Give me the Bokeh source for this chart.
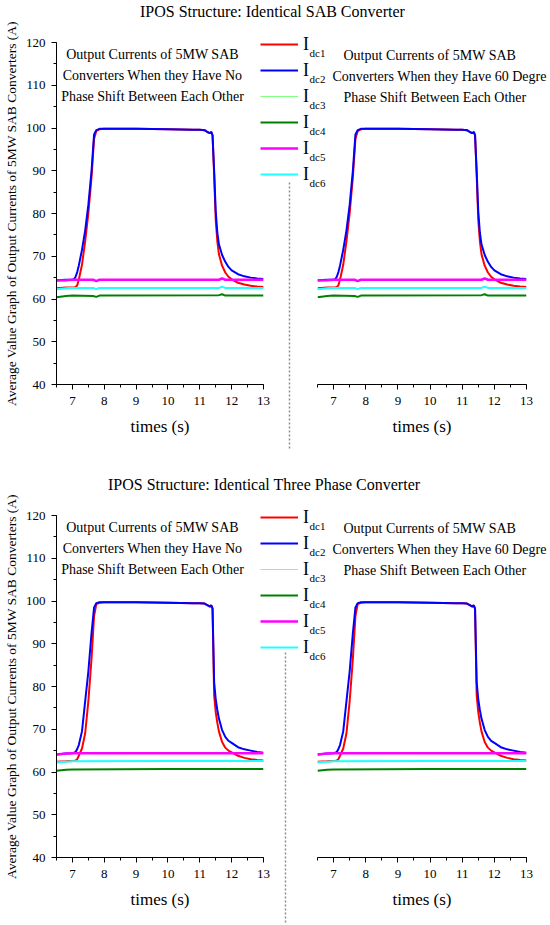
from bokeh.plotting import figure
from bokeh.models import (Div, Label, Legend, LegendItem, SingleIntervalTicker, Range1d)
from bokeh.layouts import column, row
from bokeh.embed import file_html
from bokeh.resources import INLINE

FONT = "Liberation Serif"

# ---------------- data ----------------
series_labels = ["I", "I", "I", "I", "I", "I"]
series_subs = ["dc1", "dc2", "dc3", "dc4", "dc5", "dc6"]
series_colors = ["#ff0000", "#0000ff", "#80ff80", "#008000", "#ff00ff", "#20ffff"]
series_widths = [2, 2, 1.2, 2, 2.5, 2]

y_label = "Average Value Graph of Output Currents of 5MW SAB Converters (A)"
x_label = "times (s)"
titles = ["IPOS Structure: Identical SAB Converter",
          "IPOS Structure: Identical Three Phase Converter"]
note_left = ["Output Currents of 5MW SAB",
             "Converters When they Have No",
             "Phase Shift Between Each Other"]
note_right = ["Output Currents of 5MW SAB",
              "Converters When they Have 60 Degre",
              "Phase Shift Between Each Other"]

# --- top panel (SAB converter) ---
t_top = [6.5, 6.8, 7.0, 7.05, 7.1, 7.15, 7.2, 7.3, 7.4, 7.5, 7.6, 7.68, 7.75, 7.85,
         8.0, 9.0, 10.0, 10.8, 11.0, 11.15, 11.25, 11.32, 11.36, 11.4, 11.45, 11.5,
         11.55, 11.6, 11.7, 11.8, 11.9, 12.0, 12.2, 12.4, 12.6, 12.8, 13.0]
top_idc1 = [62.5, 62.7, 62.7, 62.7, 62.8, 63.2, 64.5, 68.0, 73.5, 80.0, 88.5, 97.5, 99.3, 99.7,
            99.8, 99.8, 99.7, 99.6, 99.6, 99.5, 99.0, 98.8, 99.1, 98.3, 89.0, 78.5,
            73.5, 70.5, 67.8, 66.2, 65.2, 64.6, 63.8, 63.4, 63.1, 62.9, 62.8]
top_idc2 = [64.4, 64.5, 64.5, 64.6, 65.2, 66.3, 67.8, 71.5, 76.0, 82.0, 90.0, 98.5, 99.5, 99.8,
            99.8, 99.8, 99.7, 99.6, 99.6, 99.5, 99.0, 98.8, 99.1, 98.3, 90.0, 80.5,
            75.5, 72.8, 70.3, 68.7, 67.5, 66.7, 65.8, 65.3, 65.0, 64.8, 64.7]
t_flat_top = [6.5, 6.8, 7.0, 7.65, 7.75, 7.85, 11.6, 11.7, 11.8, 13.0]
top_idc3 = [62.4, 62.5, 62.6, 62.6, 62.4, 62.6, 62.6, 62.8, 62.6, 62.6]
top_idc4 = [60.4, 60.7, 60.8, 60.7, 60.5, 60.8, 60.9, 61.1, 60.8, 60.8]
top_idc5 = [64.3, 64.4, 64.5, 64.5, 64.2, 64.5, 64.5, 64.8, 64.5, 64.5]
top_idc6 = [62.3, 62.5, 62.6, 62.6, 62.3, 62.6, 62.6, 62.9, 62.6, 62.6]

# --- bottom panel (three phase converter) ---
t_bot = t_top
bot_idc1 = [62.4, 62.5, 62.6, 62.6, 62.7, 63.0, 63.8, 65.5, 69.0, 76.5, 86.5, 96.5, 99.3, 99.6,
            99.7, 99.7, 99.6, 99.5, 99.5, 99.4, 99.0, 98.7, 99.0, 98.2, 78.0, 74.0,
            71.5, 69.5, 67.0, 65.7, 65.0, 64.6, 63.8, 63.3, 63.0, 62.8, 62.7]
bot_idc2 = [64.1, 64.3, 64.4, 64.5, 64.7, 65.4, 66.3, 69.5, 76.5, 83.5, 92.5, 98.5, 99.5, 99.7,
            99.7, 99.7, 99.6, 99.5, 99.5, 99.4, 99.0, 98.7, 99.0, 98.2, 81.0, 77.0,
            74.5, 72.5, 69.8, 68.2, 67.3, 66.8, 65.8, 65.3, 65.0, 64.7, 64.5]
t_flat_bot = [6.5, 6.8, 7.0, 10.0, 13.0]
bot_idc3 = [62.3, 62.4, 62.5, 62.5, 62.5]
bot_idc4 = [60.3, 60.5, 60.6, 60.7, 60.7]
bot_idc5 = [64.1, 64.3, 64.4, 64.4, 64.4]
bot_idc6 = [62.2, 62.4, 62.5, 62.6, 62.6]

# ---------------- layout (pixels) ----------------
LEFT_W, RIGHT_W = 280, 286
RIGHT_SHIFT = -16          # right canvas starts at 264
OVER_X0, OVER_W = 258, 292
ROW_H, GLYPH_H = 26, 16

panels = [
    dict(title=titles[0], title_pad=140, top=22, height=451, mbb=89,
         xs=[t_top, t_top, t_flat_top, t_flat_top, t_flat_top, t_flat_top],
         ys=[top_idc1, top_idc2, top_idc3, top_idc4, top_idc5, top_idc6],
         legend_top=31, sep=(289, 182, 450), note_y=[55, 76, 97]),
    dict(title=titles[1], title_pad=108, top=495, height=428, mbb=66,
         xs=[t_bot, t_bot, t_flat_bot, t_flat_bot, t_flat_bot, t_flat_bot],
         ys=[bot_idc1, bot_idc2, bot_idc3, bot_idc4, bot_idc5, bot_idc6],
         legend_top=504, sep=(285, 652, 923), note_y=[528, 549, 570]),
]


def style_axis(ax, label_size):
    ax.axis_line_color = "black"
    ax.axis_line_width = 1
    ax.major_tick_line_color = "black"
    ax.minor_tick_line_color = "black"
    ax.major_tick_in = 0
    ax.major_tick_out = 5
    ax.minor_tick_in = 0
    ax.minor_tick_out = 3
    ax.major_label_text_font = FONT
    ax.major_label_text_font_size = "13px"
    ax.major_label_text_color = "black"
    ax.axis_label_text_font = FONT
    ax.axis_label_text_font_style = "normal"
    ax.axis_label_text_font_size = label_size
    ax.axis_label_text_color = "black"


def make_fig(width, height, mbl, mbr, mbb, with_y):
    p = figure(width=width, height=height,
               x_range=Range1d(6.5, 13), y_range=Range1d(40, 120),
               output_backend="svg", toolbar_location=None,
               y_axis_location="left" if with_y else None,
               min_border_left=mbl, min_border_right=mbr,
               min_border_top=20, min_border_bottom=mbb)
    p.outline_line_color = None
    p.grid.visible = False
    p.xaxis.ticker = SingleIntervalTicker(interval=1, num_minor_ticks=2)
    p.xaxis.axis_label = x_label
    p.xaxis.major_label_standoff = 7
    p.xaxis.axis_label_standoff = 9
    style_axis(p.xaxis[0], "17px")
    if with_y:
        p.yaxis.ticker = SingleIntervalTicker(interval=10, num_minor_ticks=2)
        p.yaxis.axis_label = y_label
        p.yaxis.major_label_standoff = 6
        p.yaxis.axis_label_standoff = 4
        style_axis(p.yaxis[0], "13.5px")
    return p


items = []
for pan in panels:
    h, top = pan["height"], pan["top"]
    left = make_fig(LEFT_W, h, 54, 17, pan["mbb"], True)
    right = make_fig(RIGHT_W, h, 53, 24, pan["mbb"], False)
    right.border_fill_color = None
    right.margin = (0, 0, 0, RIGHT_SHIFT)

    for xs, ys, c, w in zip(pan["xs"], pan["ys"], series_colors, series_widths):
        left.line(xs, ys, line_color=c, line_width=w)
        right.line(xs, ys, line_color=c, line_width=w)

    # notes inside the left plot (screen units from frame bottom-left)
    for txt, y in zip(note_left, pan["note_y"]):
        left.add_layout(Label(x=96, y=(top + 20 + 342) - (y - 1), x_units="screen",
                              y_units="screen", text=txt, text_align="center",
                              text_baseline="middle", text_font=FONT,
                              text_font_size="14px", text_color="black"))

    # transparent overlay in page-pixel space for legend, separator and right notes
    ov = figure(width=OVER_W, height=h, x_range=Range1d(OVER_X0, OVER_X0 + OVER_W),
                y_range=Range1d(top + h, top), output_backend="svg",
                toolbar_location=None, x_axis_location=None, y_axis_location=None,
                min_border=0, min_border_left=0, min_border_right=0,
                min_border_top=0, min_border_bottom=0)
    ov.margin = (-h, 0, 0, OVER_X0)
    ov.outline_line_color = None
    ov.grid.visible = False
    ov.background_fill_color = None
    ov.border_fill_color = None

    sx, sy0, sy1 = pan["sep"]
    ov.line([sx, sx], [sy0, sy1], line_color="#8c8c8c", line_width=1.5, line_dash="2 2")

    # legend proxies: the series themselves, which fall outside this overlay's ranges
    proxies = [ov.line(xs, ys, line_color=c, line_width=w)
               for xs, ys, c, w in zip(pan["xs"], pan["ys"], series_colors, series_widths)]
    legend_h = 6 * ROW_H
    legend = Legend(items=[LegendItem(label=lab, renderers=[r])
                           for lab, r in zip(series_labels, proxies)],
                    location=(260 - OVER_X0, (top + h) - (pan["legend_top"] + legend_h)),
                    orientation="vertical",
                    glyph_width=38, glyph_height=GLYPH_H, label_height=ROW_H,
                    label_width=8, spacing=0, padding=0, margin=0,
                    label_standoff=5, border_line_color=None,
                    background_fill_alpha=0,
                    label_text_font=FONT, label_text_font_size="18px",
                    label_text_color="black")
    ov.add_layout(legend, "center")
    for i, sub in enumerate(series_subs):
        ov.add_layout(Label(x=309, y=pan["legend_top"] + 21 + ROW_H * i, text=sub,
                            text_align="left", text_baseline="middle",
                            text_font=FONT, text_font_size="11px", text_color="black"))

    for txt, x, y in zip(note_right, [343, 332, 343], pan["note_y"]):
        ov.add_layout(Label(x=x, y=y, text=txt, text_align="left", text_baseline="middle",
                            text_font=FONT, text_font_size="14px", text_color="black"))

    title = Div(text=('<div style="font-family:\'Liberation Serif\';font-size:16px;'
                      'line-height:16px;color:black;white-space:nowrap;'
                      'padding-left:%dpx;padding-top:4px;">%s</div>'
                      % (pan["title_pad"], pan["title"])),
                width=550, height=22, margin=(0, 0, 0, 0))
    items.append(title)
    items.append(row(left, right, margin=(0, 0, 0, 0)))
    items.append(ov)

layout = column(*items, margin=(0, 0, 0, 0))
open("out.html", "w").write(file_html(layout, INLINE))
